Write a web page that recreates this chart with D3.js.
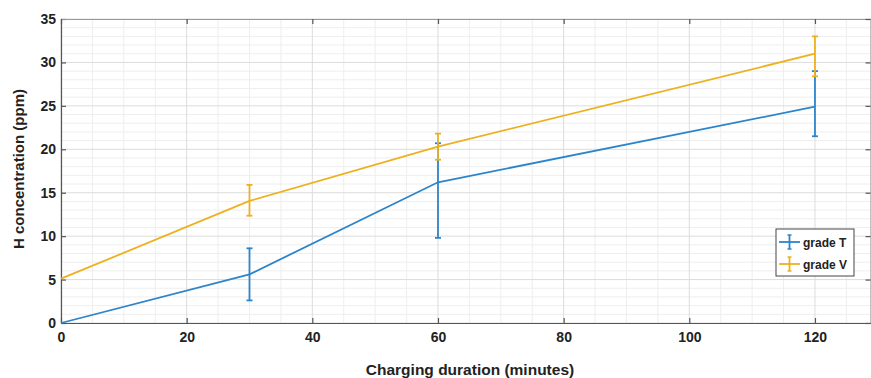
<!DOCTYPE html>
<html>
<head>
<meta charset="utf-8">
<script src="https://cdn.jsdelivr.net/npm/d3@7"></script>
<style>
  body { margin: 0; background: #fff; }
  text { font-family: "Liberation Sans", Arial, sans-serif; }
</style>
</head>
<body>
<div id="chart"></div>
<script>
const durations = [0, 30, 60, 120];
const gradeT = [0, 5.6, 16.2, 24.9];
const gradeTLow = [0, 2.6, 9.8, 21.5];
const gradeTHigh = [0, 8.6, 20.7, 29.0];
const gradeV = [5.1, 14.05, 20.3, 31.0];
const gradeVLow = [5.1, 12.35, 18.8, 28.4];
const gradeVHigh = [5.1, 15.9, 21.8, 33.0];
const xTicks = [0, 20, 40, 60, 80, 100, 120];
const yTicks = [0, 5, 10, 15, 20, 25, 30, 35];

const series = [
    { name: 'grade T', color: '#2c85ca', y: gradeT, lo: gradeTLow, hi: gradeTHigh },
    { name: 'grade V', color: '#EDB120', y: gradeV, lo: gradeVLow, hi: gradeVHigh },
];

const W = 871, H = 378;
const plotLeft = 61, plotTop = 19, plotBottom = 323;

const x = d3.scaleLinear().domain([0, 129]).range([plotLeft, plotLeft + 129 * 6.283]);
const y = d3.scaleLinear().domain([0, 35]).range([plotBottom, plotTop]);
const plotRight = x(129);

const svg = d3.select('#chart').append('svg')
    .attr('width', W).attr('height', H);

// minor grid
const grid = svg.append('g');
grid.append('g').selectAll('line').data(d3.range(0, 130, 5).filter((v) => v % 20 !== 0))
    .join('line')
    .attr('x1', (d) => x(d)).attr('x2', (d) => x(d))
    .attr('y1', plotTop).attr('y2', plotBottom)
    .attr('stroke', '#eeeeee').attr('stroke-width', 1);
grid.append('g').selectAll('line').data(d3.range(0, 36, 1).filter((v) => v % 5 !== 0))
    .join('line')
    .attr('x1', plotLeft).attr('x2', plotRight)
    .attr('y1', (d) => y(d)).attr('y2', (d) => y(d))
    .attr('stroke', '#eeeeee').attr('stroke-width', 1);
// major grid
grid.append('g').selectAll('line').data(xTicks)
    .join('line')
    .attr('x1', (d) => x(d)).attr('x2', (d) => x(d))
    .attr('y1', plotTop).attr('y2', plotBottom)
    .attr('stroke', '#dcdcdc').attr('stroke-width', 1);
grid.append('g').selectAll('line').data(yTicks)
    .join('line')
    .attr('x1', plotLeft).attr('x2', plotRight)
    .attr('y1', (d) => y(d)).attr('y2', (d) => y(d))
    .attr('stroke', '#dcdcdc').attr('stroke-width', 1);

// axes (ticks inward)
const axisColor = '#555';
const xAxis = svg.append('g').attr('transform', `translate(0,${plotBottom})`)
    .call(d3.axisBottom(x).tickValues(xTicks).tickSizeInner(-5).tickSizeOuter(0).tickPadding(9));
const yAxis = svg.append('g').attr('transform', `translate(${plotLeft},0)`)
    .call(d3.axisLeft(y).tickValues(yTicks).tickSizeInner(-5).tickSizeOuter(0).tickPadding(5));
const xTop = svg.append('g').attr('transform', `translate(0,${plotTop})`)
    .call(d3.axisTop(x).tickValues(xTicks).tickSizeInner(-5).tickSizeOuter(0).tickFormat(''));
const yRight = svg.append('g').attr('transform', `translate(${plotRight - 1},0)`)
    .call(d3.axisRight(y).tickValues(yTicks).tickSizeInner(-5).tickSizeOuter(0).tickFormat(''));
[xAxis, yAxis, xTop, yRight].forEach((g) => {
    g.selectAll('path').attr('stroke', axisColor).attr('stroke-width', 1.2);
    g.selectAll('line').attr('stroke', axisColor).attr('stroke-width', 1.2);
    g.selectAll('text')
        .attr('fill', '#222')
        .style('font-size', '14px')
        .style('font-weight', 'bold');
});
xTop.select('path').attr('stroke', '#999');
yRight.select('path').attr('stroke', '#999');

// lines
const line = d3.line().x((d) => x(d[0])).y((d) => y(d[1]));
series.forEach((s) => {
    const pts = durations.map((d, i) => [d, s.y[i]]);
    svg.append('path')
        .attr('d', line(pts))
        .attr('fill', 'none')
        .attr('stroke', s.color)
        .attr('stroke-width', 1.8);
    const eb = svg.append('g');
    durations.forEach((d, i) => {
        if (s.hi[i] === s.lo[i]) return;
        const cx = x(d);
        eb.append('line').attr('x1', cx).attr('x2', cx)
            .attr('y1', y(s.lo[i])).attr('y2', y(s.hi[i]))
            .attr('stroke', s.color).attr('stroke-width', 1.8);
        [s.lo[i], s.hi[i]].forEach((v) => {
            eb.append('line').attr('x1', cx - 3).attr('x2', cx + 3)
                .attr('y1', y(v)).attr('y2', y(v))
                .attr('stroke', s.color).attr('stroke-width', 1.8);
        });
    });
});

// axis labels
svg.append('text')
    .attr('x', 470).attr('y', 375)
    .attr('text-anchor', 'middle')
    .style('font-size', '15.5px').style('font-weight', 'bold').attr('fill', '#222')
    .text('Charging duration (minutes)');
svg.append('text')
    .attr('transform', `translate(24,169) rotate(-90)`)
    .attr('text-anchor', 'middle')
    .style('font-size', '15px').style('font-weight', 'bold').attr('fill', '#222')
    .text('H concentration (ppm)');

// legend
const lg = svg.append('g').attr('transform', 'translate(776,229)');
lg.append('rect').attr('width', 78).attr('height', 47)
    .attr('fill', '#fff').attr('stroke', '#444').attr('stroke-width', 1);
series.forEach((s, i) => {
    const ly = 13 + i * 22;
    lg.append('line').attr('x1', 3).attr('x2', 24).attr('y1', ly).attr('y2', ly)
        .attr('stroke', s.color).attr('stroke-width', 1.8);
    lg.append('line').attr('x1', 13.5).attr('x2', 13.5).attr('y1', ly - 7).attr('y2', ly + 7)
        .attr('stroke', s.color).attr('stroke-width', 1.8);
    lg.append('line').attr('x1', 11.5).attr('x2', 15.5).attr('y1', ly - 7).attr('y2', ly - 7)
        .attr('stroke', s.color).attr('stroke-width', 1.5);
    lg.append('line').attr('x1', 11.5).attr('x2', 15.5).attr('y1', ly + 7).attr('y2', ly + 7)
        .attr('stroke', s.color).attr('stroke-width', 1.5);
    lg.append('text').attr('x', 27).attr('y', ly + 4.5)
        .style('font-size', '12px').style('font-weight', 'bold').attr('fill', '#222')
        .text(s.name);
});
</script>
</body>
</html>
